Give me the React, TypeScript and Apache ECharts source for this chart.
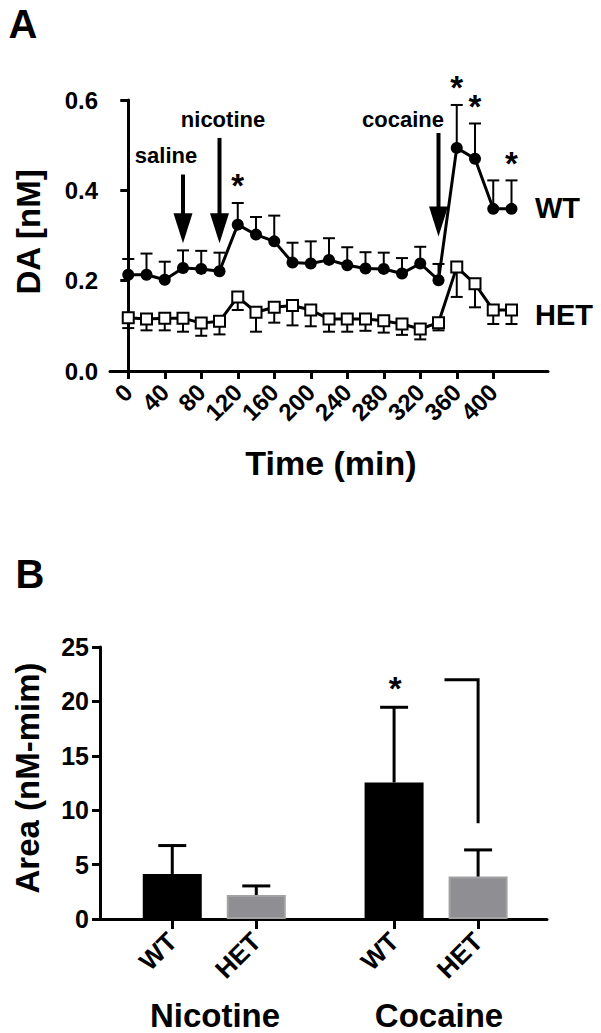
import React, { useEffect, useRef } from "react";
import * as echarts from "echarts";

// ---------- Panel A data ----------
const times = [0, 20, 40, 60, 80, 100, 120, 140, 160, 180, 200, 220, 240, 260, 280, 300, 320, 340, 360, 380, 400, 420];
const wtMean = [0.213, 0.213, 0.202, 0.228, 0.226, 0.221, 0.324, 0.302, 0.287, 0.240, 0.238, 0.246, 0.234, 0.227, 0.226, 0.216, 0.238, 0.201, 0.494, 0.470, 0.359, 0.359];
const wtSem = [0.035, 0.047, 0.040, 0.039, 0.040, 0.041, 0.048, 0.039, 0.057, 0.044, 0.049, 0.048, 0.040, 0.036, 0.036, 0.034, 0.037, 0.036, 0.095, 0.078, 0.063, 0.063];
const hetMean = [0.118, 0.115, 0.117, 0.117, 0.106, 0.110, 0.164, 0.130, 0.141, 0.145, 0.135, 0.115, 0.115, 0.115, 0.111, 0.104, 0.093, 0.107, 0.230, 0.193, 0.135, 0.135];
const hetSem = [0.023, 0.025, 0.027, 0.030, 0.028, 0.029, 0.029, 0.043, 0.034, 0.044, 0.036, 0.028, 0.028, 0.026, 0.026, 0.024, 0.023, 0.017, 0.066, 0.052, 0.031, 0.031];
const starTimes = [120, 360, 380, 420];
const timeTicks = [0, 40, 80, 120, 160, 200, 240, 280, 320, 360, 400];
const injections = ["saline", "nicotine", "cocaine"];
const injectionTimes = [60, 100, 340];
const arrowTop = [0.435, 0.516, 0.527];
const arrowTip = [0.283, 0.283, 0.298];

// ---------- Panel B data ----------
const drugs = ["Nicotine", "Cocaine"];
const genotypes = ["WT", "HET"];
const areaMean = [4.14, 2.21, 12.55, 3.9];
const areaSem = [2.61, 0.83, 6.91, 2.45];
const sigBarIndex = 2; // WT cocaine starred
const bracketLevel = 22;
const bracketBottom = 8.8;

const FF = '"Liberation Sans", Arial, Helvetica, sans-serif';
const bold = (s: number) => `bold ${s}px ${FF}`;

function txt(text: string, x: number, y: number, size: number, extra: any = {}) {
  return {
    type: "text",
    x,
    y,
    rotation: extra.rotation || 0,
    silent: true,
    style: {
      text,
      font: bold(size),
      fill: "#000",
      align: extra.align || "center",
      verticalAlign: "middle",
      textAlign: extra.align || "center",
      textVerticalAlign: "middle",
    },
  };
}

export default function App() {
  const ref = useRef<HTMLDivElement>(null);
  useEffect(() => {
    if (!ref.current) return;
    const chart = echarts.init(ref.current, null, { renderer: "svg" });

    // bar slot positions on value axis
    const slot = (g: number, k: number) => 0.86 + g * 2.64 + k;
    const barItems: any[] = [];
    const barX: number[] = [];
    const barLabels: string[] = [];
    drugs.forEach((d, g) =>
      genotypes.forEach((gt, k) => {
        const i = g * genotypes.length + k;
        const x = slot(g, k);
        barX.push(x);
        barLabels.push(gt);
        barItems.push({
          value: [x, areaMean[i]],
          itemStyle:
            gt === "WT"
              ? { color: "#000" }
              : { color: "#8e8e93", borderColor: "#a2a2a2", borderWidth: 2 },
        });
      })
    );

    const errRender = (dir: number, capW: number, lw: number) => (params: any, api: any) => {
      const x = api.value(0);
      const m = api.value(1);
      const e = api.value(2);
      const p0 = api.coord([x, m]);
      const p1 = api.coord([x, m + dir * e]);
      return {
        type: "group",
        children: [
          { type: "line", shape: { x1: p0[0], y1: p0[1], x2: p1[0], y2: p1[1] }, style: { stroke: "#000", lineWidth: lw } },
          { type: "line", shape: { x1: p1[0] - capW / 2, y1: p1[1], x2: p1[0] + capW / 2, y2: p1[1] }, style: { stroke: "#000", lineWidth: lw } },
        ],
      };
    };

    const starRender = (params: any, api: any) => {
      const p = api.coord([api.value(0), api.value(1)]);
      return {
        type: "text",
        x: p[0],
        y: p[1] - 17,
        style: { text: "*", font: bold(33), fill: "#000", align: "center", verticalAlign: "middle", textAlign: "center", textVerticalAlign: "middle" },
      };
    };

    const axisCommon = {
      axisLine: { show: true, lineStyle: { color: "#000", width: 3 } },
      splitLine: { show: false },
    };

    const option: any = {
      animation: false,
      backgroundColor: "#fff",
      grid: [
        { left: 110, top: 100, width: 438, height: 271, outerBoundsMode: "none", containLabel: false },
        { left: 100, top: 647, width: 447, height: 272, outerBoundsMode: "none", containLabel: false },
      ],
      xAxis: [
        {
          gridIndex: 0,
          type: "value",
          min: -20,
          max: 460,
          ...axisCommon,
          axisTick: { show: true, length: 8, customValues: timeTicks, lineStyle: { color: "#000", width: 3 } },
          axisLabel: {
            customValues: timeTicks,
            rotate: 45,
            margin: 17,
            fontSize: 24,
            fontWeight: "bold",
            fontFamily: FF,
            color: "#000",
            formatter: (v: number) => String(v),
          },
        },
        {
          gridIndex: 1,
          type: "value",
          min: 0,
          max: 5.32,
          ...axisCommon,
          axisTick: { show: true, length: 10, customValues: barX, lineStyle: { color: "#000", width: 3 } },
          axisLabel: {
            customValues: barX,
            rotate: 45,
            margin: 18,
            fontSize: 26,
            fontWeight: "bold",
            fontFamily: FF,
            color: "#000",
            formatter: (v: number) => {
              let best = 0;
              barX.forEach((x, i) => {
                if (Math.abs(x - v) < Math.abs(barX[best] - v)) best = i;
              });
              return barLabels[best];
            },
          },
        },
      ],
      yAxis: [
        {
          gridIndex: 0,
          type: "value",
          min: 0,
          max: 0.6,
          interval: 0.2,
          ...axisCommon,
          axisTick: { show: true, length: 8, lineStyle: { color: "#000", width: 3 } },
          axisLabel: {
            margin: 12,
            fontSize: 24,
            fontWeight: "bold",
            fontFamily: FF,
            color: "#000",
            formatter: (v: number) => v.toFixed(1),
          },
        },
        {
          gridIndex: 1,
          type: "value",
          min: 0,
          max: 25,
          interval: 5,
          ...axisCommon,
          axisTick: { show: true, length: 8, lineStyle: { color: "#000", width: 3 } },
          axisLabel: {
            margin: 11,
            fontSize: 25,
            fontWeight: "bold",
            fontFamily: FF,
            color: "#000",
          },
        },
      ],
      series: [
        // Panel A error bars
        {
          type: "custom",
          xAxisIndex: 0,
          yAxisIndex: 0,
          z: 1,
          clip: false,
          renderItem: errRender(1, 12, 2),
          encode: { x: 0, y: 1 },
          data: times.map((t, i) => [t, wtMean[i], wtSem[i]]),
        },
        {
          type: "custom",
          xAxisIndex: 0,
          yAxisIndex: 0,
          z: 1,
          clip: false,
          renderItem: errRender(-1, 12, 2),
          encode: { x: 0, y: 1 },
          data: times.map((t, i) => [t, hetMean[i], hetSem[i]]),
        },
        {
          name: "WT",
          type: "line",
          xAxisIndex: 0,
          yAxisIndex: 0,
          z: 3,
          symbol: "circle",
          symbolSize: 12,
          showAllSymbol: true,
          lineStyle: { color: "#000", width: 3 },
          itemStyle: { color: "#000" },
          data: times.map((t, i) => [t, wtMean[i]]),
        },
        {
          name: "HET",
          type: "line",
          xAxisIndex: 0,
          yAxisIndex: 0,
          z: 3,
          symbol: "rect",
          symbolSize: 11,
          showAllSymbol: true,
          lineStyle: { color: "#000", width: 3 },
          itemStyle: { color: "#fff", borderColor: "#000", borderWidth: 2 },
          data: times.map((t, i) => [t, hetMean[i]]),
        },
        // Panel A stars
        {
          type: "custom",
          xAxisIndex: 0,
          yAxisIndex: 0,
          z: 4,
          clip: false,
          renderItem: starRender,
          encode: { x: 0, y: 1 },
          data: starTimes.map((t) => {
            const i = times.indexOf(t);
            return [t, wtMean[i] + wtSem[i]];
          }),
        },
        // Panel A arrows
        {
          type: "custom",
          xAxisIndex: 0,
          yAxisIndex: 0,
          z: 4,
          clip: false,
          encode: { x: 0, y: 1 },
          renderItem: (params: any, api: any) => {
            const t = api.value(0);
            const top = api.coord([t, api.value(1)]);
            const tip = api.coord([t, api.value(2)]);
            const hh = 30;
            const hw = 19;
            return {
              type: "group",
              children: [
                { type: "line", shape: { x1: top[0], y1: top[1], x2: tip[0], y2: tip[1] - hh + 2 }, style: { stroke: "#000", lineWidth: 4 } },
                {
                  type: "polygon",
                  shape: { points: [[tip[0] - hw / 2, tip[1] - hh], [tip[0] + hw / 2, tip[1] - hh], [tip[0], tip[1]]] },
                  style: { fill: "#000" },
                },
              ],
            };
          },
          data: injectionTimes.map((t, i) => [t, arrowTop[i], arrowTip[i]]),
        },
        // Panel B bars
        {
          type: "bar",
          xAxisIndex: 1,
          yAxisIndex: 1,
          barWidth: 59,
          z: 2,
          data: barItems,
        },
        // Panel B error bars
        {
          type: "custom",
          xAxisIndex: 1,
          yAxisIndex: 1,
          z: 3,
          clip: false,
          renderItem: errRender(1, 28, 3),
          encode: { x: 0, y: 1 },
          data: barX.map((x, i) => [x, areaMean[i], areaSem[i]]),
        },
        // Panel B star
        {
          type: "custom",
          xAxisIndex: 1,
          yAxisIndex: 1,
          z: 4,
          clip: false,
          encode: { x: 0, y: 1 },
          renderItem: (params: any, api: any) => {
            const p = api.coord([api.value(0), api.value(1)]);
            return {
              type: "text",
              x: p[0] + 1,
              y: p[1] - 19,
              style: { text: "*", font: bold(33), fill: "#000", align: "center", verticalAlign: "middle", textAlign: "center", textVerticalAlign: "middle" },
            };
          },
          data: [[barX[sigBarIndex], areaMean[sigBarIndex] + areaSem[sigBarIndex]]],
        },
        // Panel B bracket
        {
          type: "custom",
          xAxisIndex: 1,
          yAxisIndex: 1,
          z: 4,
          clip: false,
          encode: { x: 0, y: 1 },
          renderItem: (params: any, api: any) => {
            const xr = api.value(0);
            const xl = (barX[2] + barX[3]) / 2 + 0.1;
            const a = api.coord([xl, bracketLevel]);
            const b = api.coord([xr, bracketLevel]);
            const c = api.coord([xr, bracketBottom]);
            return {
              type: "polyline",
              shape: { points: [a, b, c] },
              style: { stroke: "#000", lineWidth: 3, fill: null },
            };
          },
          data: [[barX[3], bracketLevel]],
        },
      ],
      graphic: [
        txt("A", 23, 24, 40),
        txt("B", 30, 574, 40),
        txt("DA [nM]", 28, 232, 33, { rotation: Math.PI / 2 }),
        txt("Time (min)", 331, 463, 34),
        txt(injections[0], 166, 155, 22),
        txt(injections[1], 223, 119, 22),
        txt(injections[2], 403, 119, 22),
        txt("WT", 535, 208, 29, { align: "left" }),
        txt("HET", 535, 315, 29, { align: "left" }),
        txt("Area (nM-mim)", 27, 778, 33, { rotation: Math.PI / 2 }),
        txt(drugs[0], 215, 1015, 33),
        txt(drugs[1], 439, 1015, 33),
      ],
    };
    chart.setOption(option);
    return () => chart.dispose();
  }, []);

  return (
    <div
      ref={ref}
      style={{ position: "fixed", left: 0, top: 0, width: 601, height: 1033, background: "#fff" }}
    />
  );
}
